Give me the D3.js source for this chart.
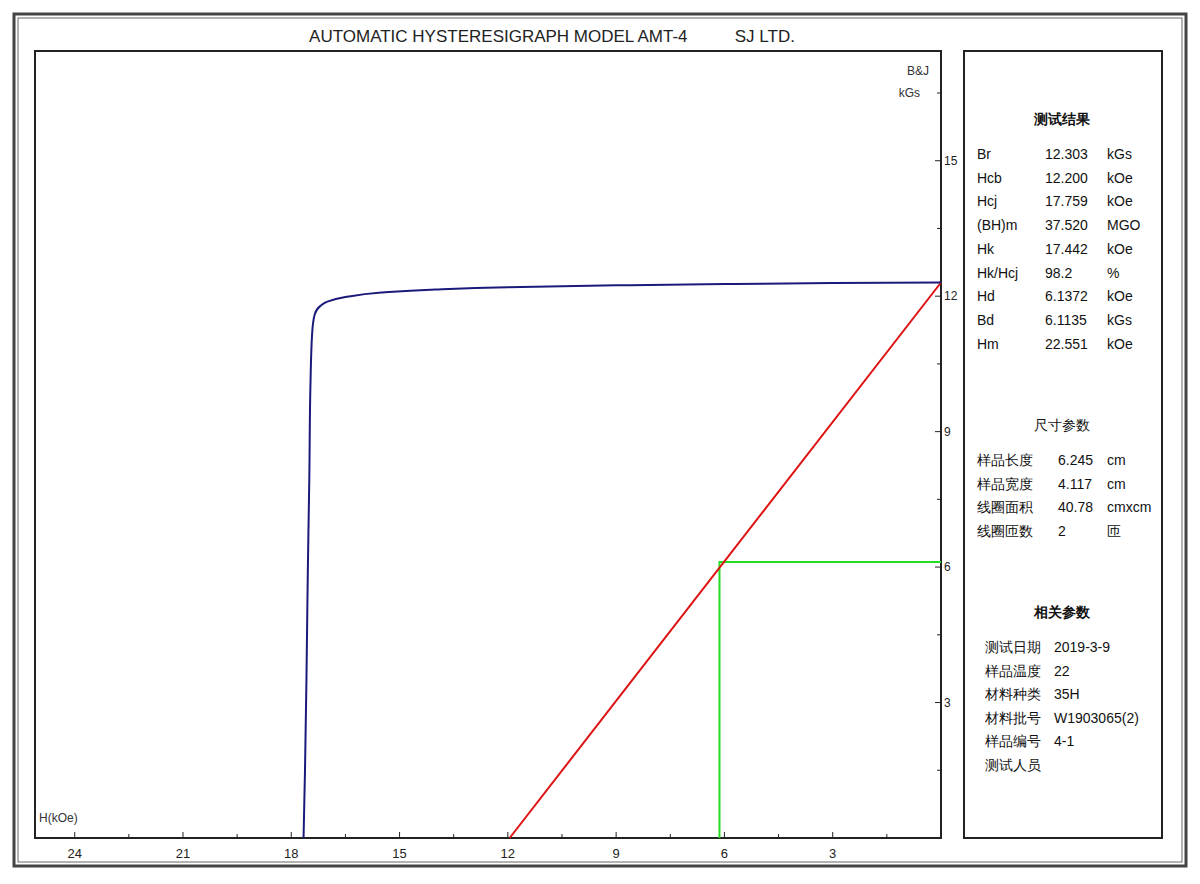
<!DOCTYPE html><html><head><meta charset="utf-8"><script src="https://cdn.jsdelivr.net/npm/d3@7"></script>
<style>body{margin:0;background:#fff}text{font-family:Arial,"Liberation Sans",sans-serif}</style></head><body>
<svg id="c" width="1200" height="884"></svg>
<script>
const curveH=[0,3,6,9,12,14,15.5,16.5,17,17.2,17.35,17.42,17.47,17.5,17.54,17.58,17.62,17.66];
const curveB=[12.303,12.29,12.27,12.24,12.2,12.15,12.08,11.98,11.88,11.78,11.6,11.2,10,8,6,3.5,1.5,0];
const loadH=[0,11.95];const loadB=[12.303,0];
const Hd=6.1372, Bd=6.1135;
const xTicks=[24,21,18,15,12,9,6,3];
const yTicks=[15,12,9,6,3];
const results=[["Br","12.303","kGs"],["Hcb","12.200","kOe"],["Hcj","17.759","kOe"],["(BH)m","37.520","MGO"],["Hk","17.442","kOe"],["Hk/Hcj","98.2","%"],["Hd","6.1372","kOe"],["Bd","6.1135","kGs"],["Hm","22.551","kOe"]];
const dims=[["样品长度","6.245","cm"],["样品宽度","4.117","cm"],["线圈面积","40.78","cmxcm"],["线圈匝数","2","匝"]];
const rel=[["测试日期","2019-3-9"],["样品温度","22"],["材料种类","35H"],["材料批号","W1903065(2)"],["样品编号","4-1"],["测试人员",""]];
const svg=d3.select("#c");
const L=35,R=941,T=51,B=838;
const x=d3.scaleLinear().domain([25.1,0]).range([L,R]);
const y=d3.scaleLinear().domain([0,17.43]).range([B,T]);
svg.append("rect").attr("x",14).attr("y",14).attr("width",1172).attr("height",852).attr("fill","none").attr("stroke","#444").attr("stroke-width",3);
svg.append("rect").attr("x",18).attr("y",18).attr("width",1164).attr("height",844).attr("fill","none").attr("stroke","#666").attr("stroke-width",1);
svg.append("rect").attr("x",L).attr("y",T).attr("width",R-L).attr("height",B-T).attr("fill","none").attr("stroke","#222").attr("stroke-width",2);
svg.append("rect").attr("x",964).attr("y",51).attr("width",198).attr("height",787).attr("fill","none").attr("stroke","#222").attr("stroke-width",2);
svg.append("text").attr("x",552).attr("y",42).attr("text-anchor","middle").attr("font-size",17).attr("fill","#222").attr("xml:space","preserve").text("AUTOMATIC HYSTERESIGRAPH MODEL AMT-4          SJ LTD.");
const xm=d3.range(0,25,1.5);
svg.selectAll(".xt").data(xm).join("line").attr("x1",d=>x(d)).attr("x2",d=>x(d)).attr("y1",B).attr("y2",d=>B-(d%3===0?6:4)).attr("stroke","#222");
svg.selectAll(".xl").data(xTicks).join("text").attr("x",d=>x(d)).attr("y",B+20).attr("text-anchor","middle").attr("font-size",13).attr("fill","#222").text(d=>d);
const ym=d3.range(1.5,17.4,1.5);
svg.selectAll(".yt").data(ym).join("line").attr("x1",R).attr("x2",d=>R-(d%3===0?6:4)).attr("y1",d=>y(d)).attr("y2",d=>y(d)).attr("stroke","#222");
svg.selectAll(".yl").data(yTicks).join("text").attr("x",R+3).attr("y",d=>y(d)+4).attr("font-size",12).attr("fill","#222").text(d=>d);
svg.append("text").attr("x",39).attr("y",822).attr("font-size",12).attr("fill","#333").text("H(kOe)");
svg.append("text").attr("x",929).attr("y",75).attr("text-anchor","end").attr("font-size",12).attr("fill","#333").text("B&J");
svg.append("text").attr("x",920).attr("y",97).attr("text-anchor","end").attr("font-size",12).attr("fill","#333").text("kGs");
const line=d3.line().x(d=>x(d[0])).y(d=>y(d[1]));
svg.append("path").attr("d",line([[Hd,0],[Hd,Bd],[0,Bd]])).attr("fill","none").attr("stroke","#22dd22").attr("stroke-width",2);
svg.append("path").attr("d",line(loadH.map((h,i)=>[h,loadB[i]]))).attr("fill","none").attr("stroke","#dd1111").attr("stroke-width",2);
svg.append("path").attr("d",d3.line().x(d=>x(d[0])).y(d=>y(d[1])).curve(d3.curveMonotoneY)(curveH.map((h,i)=>[h,curveB[i]]))).attr("fill","none").attr("stroke","#1a1a7a").attr("stroke-width",2);
const P=svg.append("g").attr("font-size",14).attr("fill","#111");
P.append("text").attr("x",1062).attr("y",124).attr("text-anchor","middle").attr("font-weight","bold").attr("font-family","Noto Sans CJK SC").text("测试结果");
results.forEach((r,i)=>{const yy=159+i*23.7;
 P.append("text").attr("x",977).attr("y",yy).text(r[0]);P.append("text").attr("x",1045).attr("y",yy).text(r[1]);P.append("text").attr("x",1107).attr("y",yy).text(r[2]);});
P.append("text").attr("x",1062).attr("y",430).attr("text-anchor","middle").attr("font-family","Noto Sans CJK SC").text("尺寸参数");
dims.forEach((r,i)=>{const yy=465+i*23.5;
 P.append("text").attr("x",977).attr("y",yy).attr("font-family","Noto Sans CJK SC").text(r[0]);P.append("text").attr("x",1058).attr("y",yy).text(r[1]);P.append("text").attr("x",1107).attr("y",yy).attr("font-family","Noto Sans CJK SC").text(r[2]);});
P.append("text").attr("x",1062).attr("y",617).attr("text-anchor","middle").attr("font-weight","bold").attr("font-family","Noto Sans CJK SC").text("相关参数");
rel.forEach((r,i)=>{const yy=652+i*23.5;
 P.append("text").attr("x",1041).attr("y",yy).attr("text-anchor","end").attr("font-family","Noto Sans CJK SC").text(r[0]);P.append("text").attr("x",1054).attr("y",yy).text(r[1]);});
</script></body></html>
